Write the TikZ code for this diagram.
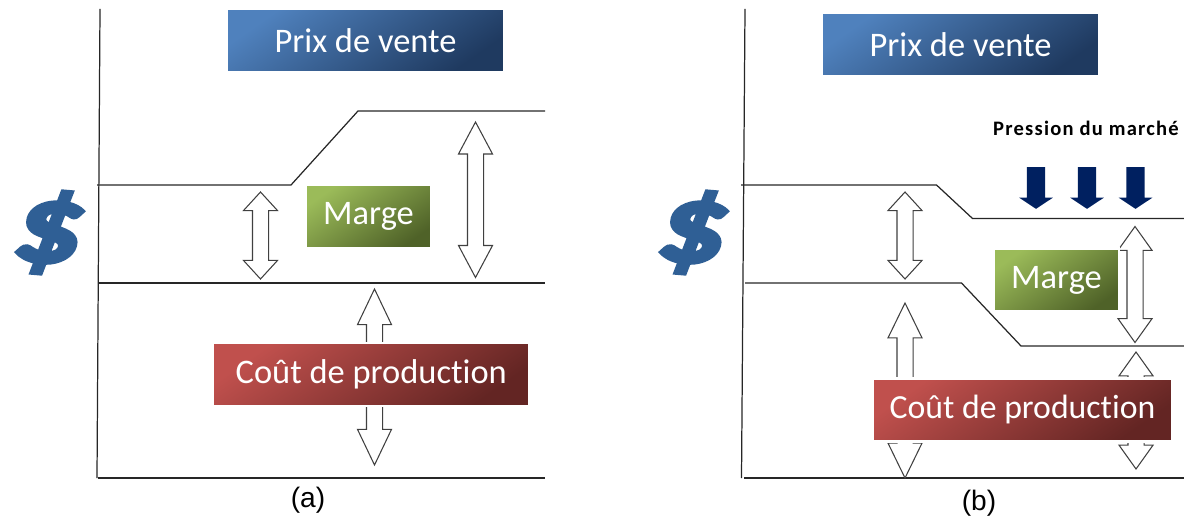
\documentclass[tikz,border=0pt]{standalone}
\usepackage{fontspec}
\setmainfont[Ligatures=NoCommon]{Carlito}
\newfontfamily\captionfont{Liberation Sans}
\newfontfamily\dollarfont[UprightFont=* Bold,FakeBold=3,FakeSlant=0.12]{Carlito}
\newfontfamily\pressionfont[LetterSpace=6,Ligatures=NoCommon]{Carlito}
\usetikzlibrary{shapes.arrows}
\definecolor{prixlight}{HTML}{4F81BD}
\definecolor{prixdark}{HTML}{1F3A60}
\definecolor{margelight}{HTML}{9BBB59}
\definecolor{margedark}{HTML}{4F6228}
\definecolor{coutlight}{HTML}{C0504D}
\definecolor{coutdark}{HTML}{632523}
\definecolor{dollarblue}{HTML}{2F5F95}
\definecolor{pressionblue}{HTML}{002060}
\tikzset{
    lvl/.style={line width=.7pt, black!85}
}
\tikzset{
    box/.style={rectangle, draw=white, line width=1.2pt, inner sep=0pt,
    	text=white, font=\fontsize{19.6}{22}\selectfont,
    	minimum height=1.26cm}
}
\tikzset{
    prix/.style={box, left color=prixlight, right color=prixdark, shading angle=35},
    marge/.style={box, left color=margelight, right color=margedark, shading angle=35},
    cout/.style={box, left color=coutlight, right color=coutdark, shading angle=35}
}
\tikzset{
    twoway/.style 2 args={shape=double arrow, draw=black!75, fill=white, line width=.6pt,
    	inner xsep=0pt, inner ysep=.15cm, rotate=90, double arrow head extend=.18cm,
    	minimum height=#1, double arrow tip angle=#2}
}
\tikzset{
    press/.style={shape=single arrow, fill=pressionblue, inner xsep=0pt, inner ysep=.174cm,
    	rotate=-90, minimum height=.834cm, single arrow head extend=.158cm,
    	single arrow tip angle=113}
}
\tikzset{
    dollar/.style={text=dollarblue, inner sep=0pt, xscale=1.2, rotate=-6,
    	font=\fontsize{64}{64}\dollarfont}
}

\begin{document}
\begin{tikzpicture}
	\useasboundingbox (0,0) rectangle (23.68cm,10.36cm);

	\coordinate (axa1) at ( 2.00cm, 10.18cm);
	\coordinate (axa2) at ( 1.94cm,  0.80cm);
	\coordinate (pa1) at ( 1.94cm,  6.66cm);
	\coordinate (pa2) at ( 5.82cm,  6.66cm);
	\coordinate (pa3) at ( 7.16cm,  8.14cm);
	\coordinate (pa4) at (10.90cm,  8.14cm);
	\coordinate (ca1) at ( 1.96cm,  4.70cm);
	\coordinate (ca2) at (10.90cm,  4.70cm);
	\coordinate (ba1) at ( 1.96cm,  0.80cm);
	\coordinate (ba2) at (10.90cm,  0.80cm);

	\coordinate (axb1) at (14.90cm, 10.18cm);
	\coordinate (axb2) at (14.83cm,  0.80cm);
	\coordinate (pb1) at (14.82cm,  6.66cm);
	\coordinate (pb2) at (18.73cm,  6.66cm);
	\coordinate (pb3) at (19.45cm,  5.99cm);
	\coordinate (pb4) at (23.68cm,  5.99cm);
	\coordinate (cb1) at (14.90cm,  4.70cm);
	\coordinate (cb2) at (19.23cm,  4.70cm);
	\coordinate (cb3) at (20.42cm,  3.44cm);
	\coordinate (cb4) at (23.68cm,  3.44cm);
	\coordinate (bb1) at (14.88cm,  0.80cm);
	\coordinate (bb2) at (23.68cm,  0.80cm);

	\draw[lvl] (axa1) -- (axa2);
	\draw[lvl] (pa1) -- (pa2) -- (pa3) -- (pa4);
	\draw[lvl] (ca1) -- (ca2);
	\draw[lvl] (ba1) -- (ba2);

	\draw[lvl] (axb1) -- (axb2);
	\draw[lvl] (pb1) -- (pb2) -- (pb3) -- (pb4);
	\draw[lvl] (cb1) -- (cb2) -- (cb3) -- (cb4);
	\draw[lvl] (bb1) -- (bb2);

	\node (ua1) [twoway={1.74cm}{85}] at ( 5.21cm,  5.65cm) {};
	\node (ua2) [twoway={3.11cm}{56}] at ( 9.51cm,  6.365cm) {};
	\node (ua3) [twoway={3.52cm}{51}] at ( 7.49cm,  2.82cm) {};

	\node (ub1) [twoway={1.74cm}{85}] at (18.10cm,  5.65cm) {};
	\node (ub2) [twoway={3.50cm}{52}] at (18.10cm,  2.55cm) {};
	\node (ub3) [twoway={2.32cm}{71}] at (22.70cm,  4.67cm) {};
	\node (ub4) [twoway={2.34cm}{71}] at (22.72cm,  2.15cm) {};

	\node (d1) [press] at (20.72cm,  6.66cm) {};
	\node (d2) [press] at (21.74cm,  6.66cm) {};
	\node (d3) [press] at (22.71cm,  6.66cm) {};

	\node (prixa) [prix, minimum width=5.54cm] at ( 7.31cm,  9.55cm) {Prix de vente};
	\node (margea) [marge, minimum width=2.50cm] at ( 7.37cm,  6.03cm) {Marge};
	\node (couta) [cout, minimum width=6.33cm] at ( 7.425cm,  2.87cm) {Coût de production};

	\node (prixb) [prix, minimum width=5.54cm] at (19.21cm,  9.47cm) {Prix de vente};
	\node (margeb) [marge, minimum width=2.50cm] at (21.13cm,  4.76cm) {Marge};
	\node (coutb) [cout, minimum width=6.00cm, font=\fontsize{19.2}{22}\selectfont] at (20.45cm,  2.16cm) {Coût de production};

	\node (pression) [inner sep=0pt, font=\fontsize{11.7}{13}\pressionfont\bfseries] at (21.72cm,  7.80cm) {Pression du marché};

	\node (dollara) [dollar] at ( 0.92cm,  5.72cm) {\$};
	\node (dollarb) [dollar] at (13.80cm,  5.72cm) {\$};

	\node (capa) [inner sep=0pt, font=\fontsize{16}{18}\captionfont] at ( 6.16cm,  0.36cm) {(a)};
	\node (capb) [inner sep=0pt, font=\fontsize{16}{18}\captionfont] at (19.58cm,  0.30cm) {(b)};
\end{tikzpicture}
\end{document}
